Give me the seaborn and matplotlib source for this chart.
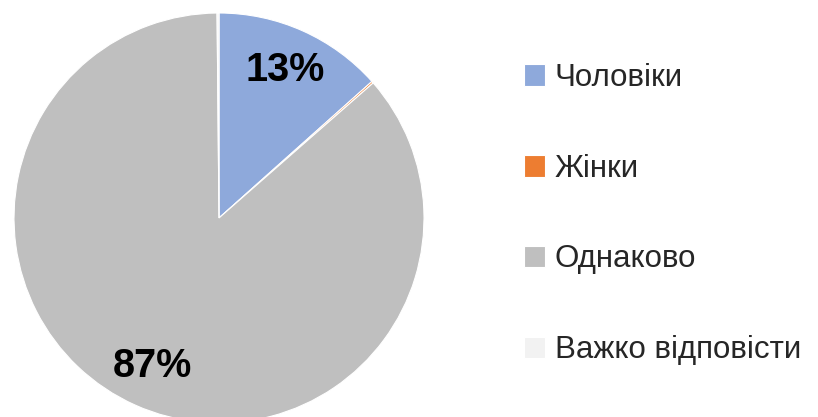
import matplotlib
matplotlib.use("Agg")
import matplotlib.pyplot as plt
import seaborn as sns
import numpy as np

# Дані
categorias = ["Чоловіки", "Жінки", "Однаково", "Важко відповісти"]
valores = [13.4, 0.15, 86.3, 0.15]
rotulos = ["13%", "", "87%", ""]
cores = ["#8EA9DB", "#ED7D31", "#BFBFBF", "#F2F2F2"]

sns.set_theme(style="white")
plt.rcParams["font.family"] = ["Liberation Sans Narrow", "Liberation Sans", "DejaVu Sans"]

fig = plt.figure(figsize=(8.18, 4.17), dpi=100)
ax = fig.add_axes([14 / 818, (417 - 218 - 205) / 417, 410 / 818, 410 / 417])

fatias, _ = ax.pie(valores, colors=cores, startangle=90, counterclock=False,
                   wedgeprops=dict(edgecolor="white", linewidth=0.8))

# rótulos de porcentagem
acumulado = np.cumsum([0] + valores[:-1])
total = sum(valores)
for v, ini, txt in zip(valores, acumulado, rotulos):
    if not txt:
        continue
    ang = np.deg2rad(90 - 360 * (ini + v / 2) / total)
    ax.text(0.79 * np.cos(ang), 0.79 * np.sin(ang), txt, ha="center", va="center",
            fontsize=28.5, fontweight="bold", color="black")

ax.set_xlim(-1, 1)
ax.set_ylim(-1, 1)
ax.set_aspect("equal")
ax.axis("off")

fig.legend(fatias, categorias, loc="center left", bbox_to_anchor=(511 / 818, 203 / 417),
           frameon=False, fontsize=22.5, handlelength=0.7, handleheight=0.7,
           handletextpad=0.3, labelspacing=1.95, borderaxespad=0)

fig.savefig("out.png", dpi=100)
